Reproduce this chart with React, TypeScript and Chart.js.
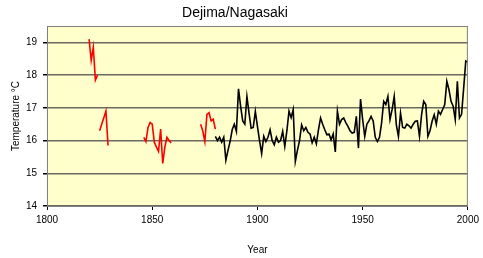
import React, { useEffect, useRef } from "react";
import { Chart, registerables } from "chart.js";

Chart.register(...registerables);

const titleText = "Dejima/Nagasaki";
const xTitle = "Year";
const yTitle = "Temperature °C";

const redYears1 = [1820, 1821, 1822, 1823, 1824];
const redTemps1 = [19.1, 18.45, 18.85, 17.85, 18.0];

const redYears2 = [1825, 1826, 1827, 1828, 1829];
const redTemps2 = [16.3, 16.5, 16.7, 16.9, 15.85];

const redYears3 = [1846, 1847, 1848, 1849, 1850, 1851, 1852, 1853, 1854, 1855, 1856, 1857, 1858, 1859];
const redTemps3 = [16.1, 15.97, 16.4, 16.55, 16.5, 15.95, 15.8, 15.67, 16.35, 15.3, 15.8, 16.1, 16.0, 15.93];

const redYears4 = [1873, 1874, 1875, 1876, 1877, 1878, 1879, 1880];
const redTemps4 = [16.5, 16.3, 15.97, 16.8, 16.85, 16.6, 16.65, 16.35];

const blackStartYear = 1880;
const blackTemps = [
  16.13, 16.0, 16.1, 15.95, 16.1, 15.4, 15.7, 15.97, 16.33, 16.5,
  16.28, 17.58, 17.05, 16.6, 16.5, 17.35, 16.84, 16.38, 16.4, 16.89,
  16.43, 16.0, 15.6, 16.13, 15.97, 16.1, 16.33, 16.0, 15.87, 16.1,
  15.95, 16.0, 16.28, 15.82, 16.3, 16.9, 16.7, 16.95, 15.36, 15.7,
  16.0, 16.48, 16.3, 16.4, 16.25, 16.2, 15.93, 16.1, 15.9, 16.33,
  16.69, 16.5, 16.33, 16.18, 16.2, 16.02, 16.2, 15.65, 16.9, 16.5,
  16.64, 16.69, 16.55, 16.43, 16.3, 16.23, 16.25, 16.74, 15.77, 17.27,
  16.64, 16.13, 16.5, 16.6, 16.74, 16.6, 16.1, 15.97, 16.1, 16.54,
  17.2, 17.1, 17.35, 16.64, 16.95, 17.35, 16.48, 16.13, 16.84, 16.4,
  16.38, 16.5, 16.45, 16.38, 16.5, 16.59, 16.6, 16.13, 16.79, 17.2,
  17.1, 16.13, 16.3, 16.59, 16.79, 16.5, 16.9, 16.8, 16.95, 17.1,
  17.81, 17.56, 17.2, 17.05, 16.64, 17.81, 16.69, 16.8, 17.6, 18.43,
  18.4,
];

const xMin = 1800;
const xMax = 2000;
const xStep = 50;
const yMin = 14;
const yMax = 19.5;
const yStep = 1;

const toPoints = (xs: number[], ys: number[]) => xs.map((x, i) => ({ x, y: ys[i] }));

const FONT = "'Liberation Sans', Arial, sans-serif";

export default function App() {
  const ref = useRef<HTMLCanvasElement | null>(null);

  useEffect(() => {
    document.body.style.margin = "0";
    const canvas = ref.current;
    if (!canvas) return;

    const blackPoints = blackTemps.map((y, i) => ({ x: blackStartYear + i, y }));

    const plotBg = {
      id: "plotBg",
      beforeDraw(chart: any) {
        const { ctx, chartArea } = chart;
        if (!chartArea) return;
        ctx.save();
        ctx.fillStyle = "#FFFFCC";
        ctx.fillRect(chartArea.left, chartArea.top, chartArea.right - chartArea.left, chartArea.bottom - chartArea.top);
        ctx.restore();
      },
      afterDraw(chart: any) {
        const { ctx, chartArea } = chart;
        if (!chartArea) return;
        ctx.save();
        ctx.strokeStyle = "#808080";
        ctx.lineWidth = 1;
        ctx.strokeRect(chartArea.left + 0.5, chartArea.top + 0.5, chartArea.right - chartArea.left - 1, chartArea.bottom - chartArea.top);
        ctx.restore();
      },
    };

    const lineDs = (data: any[], color: string) => ({
      data,
      borderColor: color,
      backgroundColor: color,
      borderWidth: 1.6,
      pointRadius: 0,
      tension: 0,
      fill: false,
    });

    const chart = new Chart(canvas, {
      type: "line",
      data: {
        datasets: [
          lineDs(toPoints(redYears1, redTemps1), "#FF0000"),
          lineDs(toPoints(redYears2, redTemps2), "#FF0000"),
          lineDs(toPoints(redYears3, redTemps3), "#FF0000"),
          lineDs(toPoints(redYears4, redTemps4), "#FF0000"),
          lineDs(blackPoints, "#000000"),
        ],
      },
      plugins: [plotBg],
      options: {
        responsive: false,
        animation: false,
        layout: { padding: { left: 0, right: 13, top: 0, bottom: 0 } },
        plugins: {
          legend: { display: false },
          tooltip: { enabled: false },
          title: {
            display: true,
            text: titleText,
            color: "#000",
            font: { family: FONT, size: 14, weight: "normal", lineHeight: 1.2 },
            padding: { top: 5, bottom: 4.2 },
          },
        },
        scales: {
          x: {
            type: "linear",
            min: xMin,
            max: xMax,
            afterFit: (scale: any) => {
              scale.height = 52;
            },
            ticks: {
              stepSize: xStep,
              color: "#000",
              font: { family: FONT, size: 10 },
              padding: 4,
              maxRotation: 0,
              callback: (v: any) => String(v),
            },
            grid: {
              drawOnChartArea: false,
              drawTicks: true,
              tickLength: 4,
              tickColor: "#000",
            },
            border: { display: true, color: "#000", width: 1 },
            title: {
              display: true,
              text: xTitle,
              color: "#000",
              font: { family: FONT, size: 10, lineHeight: 1.2 },
              padding: { top: 0, bottom: 2 },
            },
          },
          y: {
            type: "linear",
            min: yMin,
            max: yMax,
            afterFit: (scale: any) => {
              scale.width = 47;
            },
            afterBuildTicks: (scale: any) => {
              scale.ticks = scale.ticks.filter((t: any) => Number.isInteger(t.value));
            },
            ticks: {
              stepSize: yStep,
              color: "#000",
              font: { family: FONT, size: 10 },
              padding: 6,
              callback: (v: any) => String(v),
            },
            grid: {
              drawOnChartArea: true,
              drawTicks: true,
              tickLength: 4,
              color: "#6a6a60",
              lineWidth: 1.5,
              tickColor: "#000",
            },
            border: { display: true, color: "#000", width: 1 },
            title: {
              display: true,
              text: yTitle,
              color: "#000",
              font: { family: FONT, size: 10, lineHeight: 1.2 },
              padding: { top: 10, bottom: 0 },
            },
          },
        },
      },
    } as any);

    return () => {
      chart.destroy();
    };
  }, []);

  return (
    <div style={{ position: "fixed", left: 0, top: 0, width: 483, height: 258, background: "#fff" }}>
      <canvas ref={ref} width={483} height={258} style={{ width: 483, height: 258, display: "block" }} />
    </div>
  );
}
